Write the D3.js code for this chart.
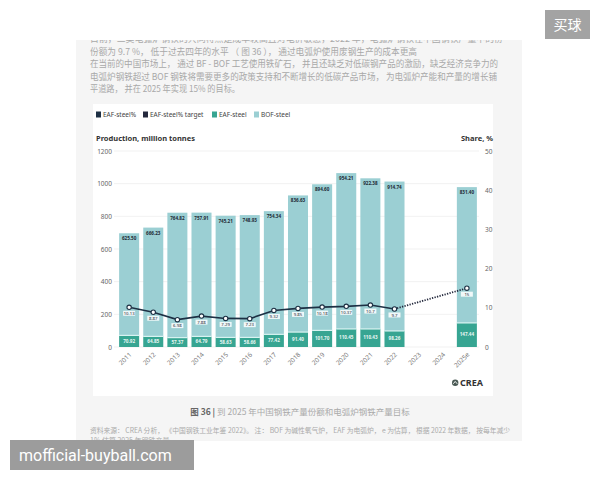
<!DOCTYPE html>
<html>
<head>
<meta charset="utf-8">
<script src="https://cdn.jsdelivr.net/npm/d3@7"></script>
<style>
  body { margin: 0; background: #fff; }
  svg { display: block; font-family: "Noto Sans", "Noto Sans CJK SC", sans-serif; }
</style>
</head>
<body>
<div id="chart"></div>
<script>
// China steel output: BOF vs EAF, with EAF share (CREA figure 36)
const years = ['2011', '2012', '2013', '2014', '2015', '2016', '2017', '2018', '2019', '2020', '2021', '2022', '2023', '2024', '2025e'];
const bofSteel = [625.50, 666.23, 764.82, 757.91, 745.21, 748.93, 754.34, 836.63, 894.60, 954.21, 922.38, 914.74, null, null, 831.40];
const eafSteel = [70.92, 64.85, 57.37, 64.79, 58.63, 58.66, 77.42, 91.40, 101.70, 110.45, 110.43, 98.26, null, null, 147.44];
const shareYears = ['2011', '2012', '2013', '2014', '2015', '2016', '2017', '2018', '2019', '2020', '2021', '2022'];
const eafShare = [10.13, 8.87, 6.98, 7.88, 7.29, 7.23, 9.32, 9.85, 10.18, 10.37, 10.7, 9.7];
const targetYears = ['2022', '2025e'];
const targetShare = [9.7, 15];
const leftTicks = [0, 200, 400, 600, 800, 1000, 1200];
const rightTicks = [0, 10, 20, 30, 40, 50];
const legendItems = ['EAF-steel%', 'EAF-steel% target', 'EAF-steel', 'BOF-steel'];

const paragraph = [
    '目前，三类电弧炉钢铁的共同特点是成本较高且对电价敏感，2022 年，电弧炉钢铁在中国钢铁产量中的份',
    '份额为 9.7 %， 低于过去四年的水平 （ 图 36 ）， 通过电弧炉使用废钢生产的成本更高',
    '在当前的中国市场上， 通过 BF - BOF 工艺使用铁矿石， 并且还缺乏对低碳钢产品的激励，缺乏经济竞争力的',
    '电弧炉钢铁超过 BOF 钢铁将需要更多的政策支持和不断增长的低碳产品市场， 为电弧炉产能和产量的增长铺',
    '平道路， 并在 2025 年实现 15% 的目标。'
];
const paragraphY = [42, 55, 67, 80, 92];
const paragraphEnd = [503, 417, 498, 497, 240];

const colors = {
    bof: '#9bcfd3',
    eaf: '#37a592',
    line: '#1d3044',
    target: '#24293d'
};

const W = 600, H = 480;
const svg = d3.select('#chart').append('svg')
    .attr('width', W)
    .attr('height', H);

const defs = svg.append('defs');
defs.append('clipPath').attr('id', 'docClip')
    .append('rect').attr('x', 76).attr('y', 40).attr('width', 446).attr('height', 401);

// Document page background
svg.append('rect')
    .attr('x', 76).attr('y', 40)
    .attr('width', 446).attr('height', 401)
    .attr('fill', '#f5f5f5');

const doc = svg.append('g').attr('clip-path', 'url(#docClip)');

// Body text above the figure
paragraph.forEach((t, i) => {
    doc.append('text')
        .attr('x', 90)
        .attr('y', paragraphY[i])
        .attr('textLength', paragraphEnd[i] - 90)
        .attr('lengthAdjust', 'spacingAndGlyphs')
        .style('font-family', '"Noto Sans CJK SC", sans-serif')
        .style('font-size', '9px')
        .style('fill', '#a9a9a9')
        .text(t);
});

// White chart panel
svg.append('rect')
    .attr('x', 93).attr('y', 104)
    .attr('width', 400).attr('height', 292)
    .attr('fill', '#ffffff');

// Legend
const legendX = [96, 143, 212, 254];
const legendColors = [colors.line, colors.target, colors.eaf, colors.bof];
legendItems.forEach((name, i) => {
    svg.append('rect')
        .attr('x', legendX[i]).attr('y', 111.5)
        .attr('width', 5).attr('height', 6)
        .attr('fill', legendColors[i]);
    svg.append('text')
        .attr('x', legendX[i] + 7)
        .attr('y', 117)
        .style('font-size', '6.5px')
        .style('fill', '#444')
        .text(name);
});

svg.append('text')
    .attr('x', 96).attr('y', 141)
    .style('font-size', '7.5px')
    .style('font-weight', '700')
    .style('fill', '#333')
    .text('Production, million tonnes');

svg.append('text')
    .attr('x', 493).attr('y', 141)
    .attr('text-anchor', 'end')
    .style('font-size', '7.5px')
    .style('font-weight', '700')
    .style('fill', '#333')
    .text('Share, %');

// Scales
const x = d3.scaleBand()
    .domain(years)
    .range([115.5, 480.5])
    .paddingInner(0.17)
    .paddingOuter(0.15);

const y = d3.scaleLinear()
    .domain([0, 1200])
    .range([347, 151]);

const yShare = d3.scaleLinear()
    .domain([0, 50])
    .range([347, 151]);

// Gridlines
svg.append('g')
    .selectAll('line')
    .data(leftTicks)
    .join('line')
    .attr('x1', 114).attr('x2', 479)
    .attr('y1', d => y(d)).attr('y2', d => y(d))
    .attr('stroke', '#eeeeee')
    .attr('stroke-width', 0.8);

// Left axis
const yAxis = svg.append('g')
    .attr('transform', 'translate(112,0)')
    .call(d3.axisLeft(y).tickValues(leftTicks).tickFormat(d3.format('d')).tickSize(0).tickPadding(0));
yAxis.select('.domain').remove();
yAxis.selectAll('text')
    .style('font-size', '6.5px')
    .style('fill', '#666')
    .style('font-family', '"Noto Sans", sans-serif');

// Right axis
const yAxisR = svg.append('g')
    .attr('transform', 'translate(485,0)')
    .call(d3.axisRight(yShare).tickValues(rightTicks).tickSize(0).tickPadding(0));
yAxisR.select('.domain').remove();
yAxisR.selectAll('text')
    .style('font-size', '6.5px')
    .style('fill', '#666')
    .style('font-family', '"Noto Sans", sans-serif');

// Stacked bars
const barData = years.map((yr, i) => ({ year: yr, bof: bofSteel[i], eaf: eafSteel[i] }))
    .filter(d => d.bof !== null);

const bars = svg.append('g');
bars.selectAll('rect.eaf')
    .data(barData)
    .join('rect')
    .attr('class', 'eaf')
    .attr('x', d => x(d.year))
    .attr('width', x.bandwidth())
    .attr('y', d => y(d.eaf))
    .attr('height', d => y(0) - y(d.eaf))
    .attr('fill', colors.eaf);

bars.selectAll('rect.bof')
    .data(barData)
    .join('rect')
    .attr('class', 'bof')
    .attr('x', d => x(d.year))
    .attr('width', x.bandwidth())
    .attr('y', d => y(d.eaf + d.bof))
    .attr('height', d => y(d.eaf) - y(d.eaf + d.bof))
    .attr('fill', colors.bof);

// Thin light seam between segments
bars.selectAll('line.seam')
    .data(barData)
    .join('line')
    .attr('class', 'seam')
    .attr('x1', d => x(d.year))
    .attr('x2', d => x(d.year) + x.bandwidth())
    .attr('y1', d => y(d.eaf))
    .attr('y2', d => y(d.eaf))
    .attr('stroke', '#d8f3f1')
    .attr('stroke-width', 1.2);

// Bar value labels
bars.selectAll('text.bofLabel')
    .data(barData)
    .join('text')
    .attr('class', 'bofLabel')
    .attr('x', d => x(d.year) + x.bandwidth() / 2)
    .attr('y', d => y(d.eaf + d.bof) + 7)
    .attr('text-anchor', 'middle')
    .style('font-size', '4.6px')
    .style('font-weight', '700')
    .style('fill', '#1e2a36')
    .text(d => d.bof.toFixed(2));

bars.selectAll('text.eafLabel')
    .data(barData)
    .join('text')
    .attr('class', 'eafLabel')
    .attr('x', d => x(d.year) + x.bandwidth() / 2)
    .attr('y', d => y(d.eaf / 2) + 1.5)
    .attr('text-anchor', 'middle')
    .style('font-size', '4.6px')
    .style('font-weight', '700')
    .style('fill', '#e8f6f3')
    .text(d => d.eaf.toFixed(2));

// Share line
const cx = yr => x(yr) + x.bandwidth() / 2;
const shareData = shareYears.map((yr, i) => ({ year: yr, v: eafShare[i] }));
const targetData = targetYears.map((yr, i) => ({ year: yr, v: targetShare[i] }));

const line = d3.line()
    .x(d => cx(d.year))
    .y(d => yShare(d.v));

svg.append('path')
    .datum(targetData)
    .attr('d', line)
    .attr('fill', 'none')
    .attr('stroke', colors.target)
    .attr('stroke-width', 1.8)
    .attr('stroke-dasharray', '1.3,1.3');

svg.append('path')
    .datum(shareData)
    .attr('d', line)
    .attr('fill', 'none')
    .attr('stroke', colors.line)
    .attr('stroke-width', 1.6);

const pointData = shareData.concat([targetData[1]]);

svg.append('g')
    .selectAll('circle')
    .data(pointData)
    .join('circle')
    .attr('cx', d => cx(d.year))
    .attr('cy', d => yShare(d.v))
    .attr('r', 2.2)
    .attr('fill', '#fff')
    .attr('stroke', colors.line)
    .attr('stroke-width', 1.1);

// Share labels under the points
const shareLabels = svg.append('g')
    .selectAll('g')
    .data(pointData)
    .join('g')
    .attr('transform', d => `translate(${cx(d.year)},${yShare(d.v) + 7})`);

shareLabels.append('rect')
    .attr('x', -6).attr('y', -3.5)
    .attr('width', 12).attr('height', 5)
    .attr('fill', '#ffffff')
    .attr('opacity', 0.85);

shareLabels.append('text')
    .attr('text-anchor', 'middle')
    .attr('y', 0.8)
    .style('font-size', '4.3px')
    .style('fill', '#1e2a36')
    .text(d => String(d.v));

// X axis labels, rotated
svg.append('g')
    .selectAll('text')
    .data(years)
    .join('text')
    .attr('transform', d => `translate(${cx(d) + 3},${355}) rotate(-45)`)
    .attr('text-anchor', 'end')
    .style('font-size', '6.5px')
    .style('fill', '#777')
    .text(d => d);

// CREA logo
const logo = svg.append('g').attr('transform', 'translate(452,386)');
logo.append('circle')
    .attr('cx', 3.2).attr('cy', -3.2).attr('r', 3.2)
    .attr('fill', '#4a5a55');
logo.append('path')
    .attr('d', 'M1.3,-2.2 L3.2,-4.6 L5.2,-2.2')
    .attr('fill', 'none')
    .attr('stroke', '#ffffff')
    .attr('stroke-width', 0.9);
logo.append('text')
    .attr('x', 8).attr('y', 0)
    .style('font-size', '9px')
    .style('font-weight', '700')
    .style('fill', '#333')
    .text('CREA');

// Caption
const caption = doc.append('text')
    .attr('x', 300).attr('y', 415)
    .attr('text-anchor', 'middle')
    .style('font-family', '"Noto Sans CJK SC", sans-serif')
    .style('font-size', '8.5px');
caption.append('tspan').style('fill', '#666').style('font-weight', '700').text('图 36 | ');
caption.append('tspan').style('fill', '#aaa').text('到 2025 年中国钢铁产量份额和电弧炉钢铁产量目标');

// Source note
doc.append('text')
    .attr('x', 90).attr('y', 433)
    .attr('textLength', 420)
    .attr('lengthAdjust', 'spacingAndGlyphs')
    .style('font-family', '"Noto Sans CJK SC", sans-serif')
    .style('font-size', '7px')
    .style('fill', '#aaa')
    .text('资料来源： CREA 分析， 《中国钢铁工业年鉴 2022》。 注： BOF 为碱性氧气炉， EAF 为电弧炉， e 为估算， 根据 2022 年数据， 按每年减少');

doc.append('text')
    .attr('x', 90).attr('y', 443)
    .style('font-family', '"Noto Sans CJK SC", sans-serif')
    .style('font-size', '7px')
    .style('fill', '#aaa')
    .text('1% 估算 2025 年钢铁产量');

// Watermarks
svg.append('rect')
    .attr('x', 545).attr('y', 10)
    .attr('width', 45).attr('height', 29)
    .attr('fill', '#a3a3a3');
svg.append('text')
    .attr('x', 567.5).attr('y', 30)
    .attr('text-anchor', 'middle')
    .style('font-family', '"Noto Sans CJK SC", sans-serif')
    .style('font-size', '14px')
    .style('fill', '#ffffff')
    .text('买球');

svg.append('rect')
    .attr('x', 10).attr('y', 440)
    .attr('width', 184).attr('height', 30)
    .attr('fill', '#9c9c9c');
svg.append('text')
    .attr('x', 19).attr('y', 461)
    .style('font-family', 'Roboto, sans-serif')
    .style('font-size', '16px')
    .style('fill', '#ffffff')
    .text('mofficial-buyball.com');
</script>
</body>
</html>
